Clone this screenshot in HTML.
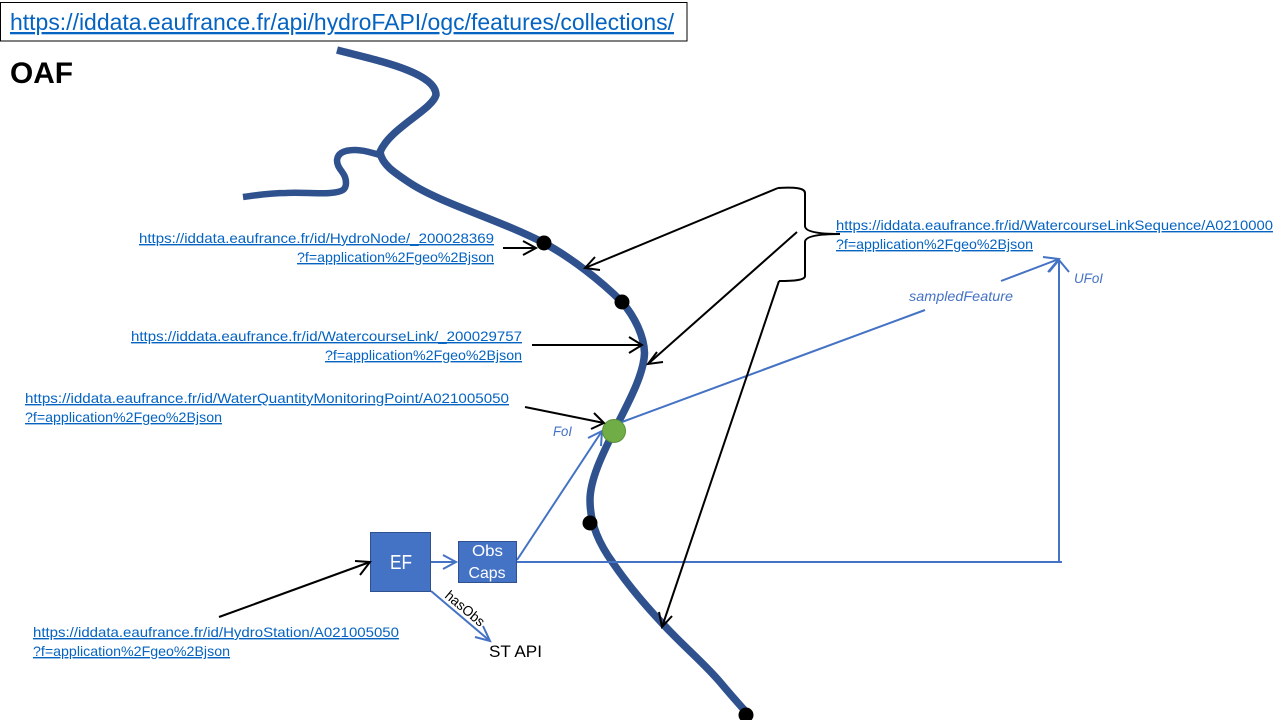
<!DOCTYPE html>
<html>
<head>
<meta charset="utf-8">
<style>
html,body{margin:0;padding:0;background:#fff;width:1280px;height:720px;overflow:hidden}
svg{display:block}
text{font-family:"Liberation Sans",sans-serif}
.l{fill:#0563c1;font-size:14px;text-decoration:underline}
.i{fill:#4472c4;font-size:14px;font-style:italic}
.b{fill:none;stroke:#000;stroke-width:2}
.bt{fill:none;stroke:#4472c4;stroke-width:2}
</style>
</head>
<body>
<svg width="1280" height="720" viewBox="0 0 1280 720" xmlns="http://www.w3.org/2000/svg">
<rect x="0.500" y="2.500" width="686.500" height="38.500" fill="#fff" stroke="#000" stroke-width="1"/>
<text x="10" y="30" font-size="23" fill="#0563c1" text-decoration="underline" textLength="664" lengthAdjust="spacingAndGlyphs">https://iddata.eaufrance.fr/api/hydroFAPI/ogc/features/collections/</text>
<text x="10" y="83" font-size="29.500" font-weight="bold" fill="#000" textLength="63" lengthAdjust="spacingAndGlyphs">OAF</text>

<!-- river -->
<g fill="none" stroke="#2f528f" stroke-linecap="butt">
<path stroke-width="7.500" d="M337 50 C375 60 436 72 436 95 C432 110 390 128 380 152 C382 165 395 173 410 183 C440 203 500 220 544 243 C570 257 600 280 622 302 C634 316 644 335 644.500 353 C644 375 627 405 614 431 C602 455 590 480 590 500 C590 525 600 545 613 563 C628 585 645 605 662 623 C682 645 703 662 720 682 C730 694 738 703 747 713"/>
<path stroke-width="6.500" d="M243 197 C258 195 270 193 286 193 C300 192 318 194 330 193 C342 192 346 190 346 183 C346 172 337 170 337 160 C338 151 348 150 355 150 C365 150 372 153 380 155"/>
</g>
<circle cx="544" cy="243" r="7.500" fill="#000"/>
<circle cx="622" cy="302" r="7.500" fill="#000"/>
<circle cx="590" cy="523" r="7.500" fill="#000"/>
<circle cx="746" cy="715" r="7.500" fill="#000"/>

<!-- blue connectors -->
<polyline class="bt" points="622,422 925,310"/>
<polyline class="bt" points="1001,281 1059,259"/>
<polyline class="bt" points="1043,257 1059,259 1048,272"/>
<polyline class="bt" points="1059,562 1059,260"/>
<polyline class="bt" points="1049,272 1059,260 1069,272"/>
<polyline class="bt" points="517,562 1062,562"/>
<polyline class="bt" points="517,560 602,431"/>
<polyline class="bt" points="588,438 602,431 601,446"/>
<polyline class="bt" points="431,562 456,562"/>
<polyline class="bt" points="443,555 456,562 443,569"/>
<polyline class="bt" points="431,591 490,641"/>
<polyline class="bt" points="483,626 490,641 475,637"/>
<circle cx="614" cy="431" r="11.500" fill="#70ad47" stroke="#5b9137" stroke-width="1"/>

<!-- boxes -->
<rect x="370.500" y="532.500" width="60" height="59" fill="#4472c4" stroke="#2f528f"/>
<text x="390" y="569" font-size="20" fill="#fff" textLength="22" lengthAdjust="spacingAndGlyphs">EF</text>
<rect x="458.500" y="541.500" width="58" height="41" fill="#4472c4" stroke="#2f528f"/>
<text x="487.500" y="556" font-size="16" fill="#fff" text-anchor="middle" textLength="31" lengthAdjust="spacingAndGlyphs">Obs</text>
<text x="487" y="578" font-size="16" fill="#fff" text-anchor="middle" textLength="37" lengthAdjust="spacingAndGlyphs">Caps</text>
<text x="489" y="657" font-size="17" fill="#000" textLength="53" lengthAdjust="spacingAndGlyphs">ST API</text>
<text transform="translate(444,597) rotate(40)" font-size="14" fill="#000" textLength="47" lengthAdjust="spacingAndGlyphs">hasObs</text>

<!-- black arrows -->
<polyline class="b" points="503,248 535,248"/>
<polyline class="b" points="523,241 536,248 523,255"/>
<polyline class="b" points="532,345 642,345"/>
<polyline class="b" points="629,337 642,345 629,353"/>
<polyline class="b" points="525,407 604,423"/>
<polyline class="b" points="591,429 604,423 594,413"/>
<polyline class="b" points="219,617 370,562"/>
<polyline class="b" points="355,561 370,562 360,575"/>
<polyline class="b" points="778,188 585,268"/>
<polyline class="b" points="595,257 585,268 600,270"/>
<polyline class="b" points="797,232 648,364"/>
<polyline class="b" points="657,352 648,364 663,362"/>
<polyline class="b" points="779,281 662,627"/>
<polyline class="b" points="659,612 662,627 672,616"/>

<!-- brace -->
<path fill="none" stroke="#000" stroke-width="2" d="M778 188 C795 187 805 188 805 193 L805 226 C805 231 815 234 840 234 C815 234 805 237 805 242 L805 276 C805 280 795 281 779 281"/>

<!-- labels -->
<text class="l" x="139" y="243" textLength="355" lengthAdjust="spacingAndGlyphs">https://iddata.eaufrance.fr/id/HydroNode/_200028369</text>
<text class="l" x="297" y="262" textLength="197" lengthAdjust="spacingAndGlyphs">?f=application%2Fgeo%2Bjson</text>
<text class="l" x="131" y="341" textLength="391" lengthAdjust="spacingAndGlyphs">https://iddata.eaufrance.fr/id/WatercourseLink/_200029757</text>
<text class="l" x="325" y="360" textLength="197" lengthAdjust="spacingAndGlyphs">?f=application%2Fgeo%2Bjson</text>
<text class="l" x="25" y="403" textLength="484" lengthAdjust="spacingAndGlyphs">https://iddata.eaufrance.fr/id/WaterQuantityMonitoringPoint/A021005050</text>
<text class="l" x="25" y="422" textLength="197" lengthAdjust="spacingAndGlyphs">?f=application%2Fgeo%2Bjson</text>
<text class="l" x="33" y="637" textLength="366" lengthAdjust="spacingAndGlyphs">https://iddata.eaufrance.fr/id/HydroStation/A021005050</text>
<text class="l" x="33" y="656" textLength="197" lengthAdjust="spacingAndGlyphs">?f=application%2Fgeo%2Bjson</text>
<text class="l" x="836" y="230" textLength="437" lengthAdjust="spacingAndGlyphs">https://iddata.eaufrance.fr/id/WatercourseLinkSequence/A0210000</text>
<text class="l" x="836" y="249" textLength="197" lengthAdjust="spacingAndGlyphs">?f=application%2Fgeo%2Bjson</text>

<text class="i" x="553" y="436" textLength="19" lengthAdjust="spacingAndGlyphs">FoI</text>
<text class="i" x="909" y="301" textLength="104" lengthAdjust="spacingAndGlyphs">sampledFeature</text>
<text class="i" x="1074" y="283" textLength="29" lengthAdjust="spacingAndGlyphs">UFoI</text>
</svg>
</body>
</html>
